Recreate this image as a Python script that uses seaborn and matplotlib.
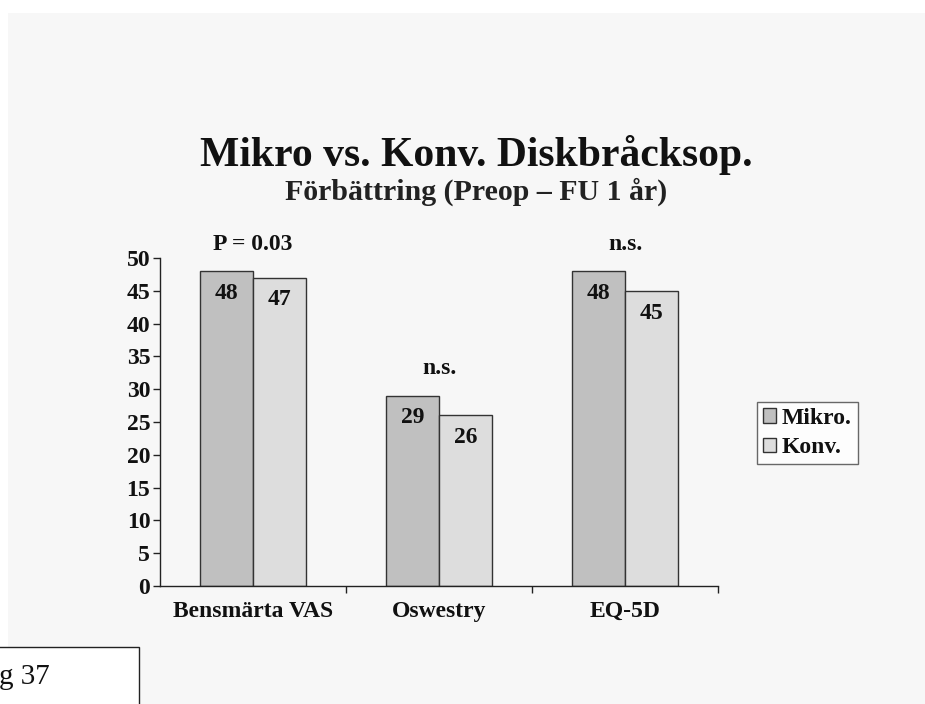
import matplotlib
matplotlib.use("Agg")
import matplotlib.pyplot as plt
from matplotlib.patches import Rectangle
import seaborn as sns
import pandas as pd

categories = ["Bensmärta VAS", "Oswestry", "EQ-5D"]
mikro = [48, 29, 48]
konv = [47, 26, 45]
groups = ["Mikro.", "Konv."]
significance = ["P = 0.03", "n.s.", "n.s."]
yticks = [0, 5, 10, 15, 20, 25, 30, 35, 40, 45, 50]

df = pd.DataFrame({
    "Kategori": categories * 2,
    "Grupp": [groups[0]] * len(categories) + [groups[1]] * len(categories),
    "Värde": mikro + konv,
})

sns.set_theme(style="white")
plt.rcParams["font.family"] = ["Liberation Serif", "DejaVu Serif"]
plt.rcParams["font.weight"] = "bold"

W, H = 925, 704
FS = 17
fig = plt.figure(figsize=(W / 100, H / 100), dpi=100)
fig.patch.set_facecolor("white")
panel = "#f7f7f7"
fig.patches.append(Rectangle((8 / W, 0), 1, 1 - 13 / H, transform=fig.transFigure,
                             facecolor=panel, edgecolor="none", zorder=-10))

ax = fig.add_axes([160 / W, (H - 586) / H, 558 / W, 328 / H])
ax.set_facecolor(panel)

palette = {"Mikro.": "#c0c0c0", "Konv.": "#dddddd"}
sns.barplot(data=df, x="Kategori", y="Värde", hue="Grupp", palette=palette,
            width=0.575, edgecolor="#333333", linewidth=1.0, ax=ax,
            saturation=1, legend=True)

ax.set_xlim(-0.5, 2.5)
ax.set_ylim(0, 50)
ax.set_yticks(yticks)
ax.set_xlabel("")
ax.set_ylabel("")
for s in ["top", "right"]:
    ax.spines[s].set_visible(False)
for s in ["left", "bottom"]:
    ax.spines[s].set_color("#222222")
    ax.spines[s].set_linewidth(1.0)

ax.tick_params(axis="y", which="major", direction="out", length=5, width=1,
               color="#222222", left=True, labelsize=FS, pad=2)
ax.tick_params(axis="x", which="major", length=0, labelsize=FS, pad=11)
ax.set_xticks([0.5, 1.5, 2.5], minor=True)
ax.tick_params(axis="x", which="minor", direction="out", length=5, width=1,
               color="#222222", bottom=True)
for lbl in ax.get_yticklabels() + ax.get_xticklabels():
    lbl.set_fontweight("bold")
    lbl.set_color("#111111")

# value labels inside the bars, just below each top
for cont in ax.containers:
    for rect, v in zip(cont.patches, cont.datavalues):
        ax.annotate(f"{v:g}", (rect.get_x() + rect.get_width() / 2, v),
                    xytext=(0, -16), textcoords="offset points",
                    ha="center", va="center", fontsize=FS, fontweight="bold",
                    color="#111111")

# significance notes above each pair
for i, txt in enumerate(significance):
    top = max(mikro[i], konv[i])
    ax.annotate(txt, (i, top), xytext=(0, 19.5), textcoords="offset points",
                ha="center", va="center", fontsize=FS, fontweight="bold",
                color="#111111", annotation_clip=False)

leg = ax.legend(loc="center left", bbox_to_anchor=(1.07, 0.5 - 11 / 328),
                frameon=True, fancybox=False, handlelength=0.55,
                handleheight=0.55, handletextpad=0.25, borderpad=0.25,
                labelspacing=0.35, borderaxespad=0,
                prop={"weight": "bold", "size": FS})
leg.get_frame().set_edgecolor("#444444")
leg.get_frame().set_facecolor("white")
leg.get_frame().set_linewidth(1.0)
for t in leg.get_texts():
    t.set_color("#111111")

fig.text(476 / W, 1 - 155 / H, "Mikro vs. Konv. Diskbråcksop.", ha="center",
         va="center", fontsize=30, fontweight="bold", color="#111111")
fig.text(476 / W, 1 - 192 / H, "Förbättring (Preop – FU 1 år)", ha="center",
         va="center", fontsize=21.5, fontweight="bold", color="#222222")

# page-number box at the lower left
fig.patches.append(Rectangle((-0.01, -0.01), 139 / W + 0.01, (H - 647) / H + 0.01,
                             transform=fig.transFigure, facecolor="white",
                             edgecolor="#222222", linewidth=1.0, zorder=5))
fig.text(-1 / W, 1 - 677 / H, "g 37", ha="left", va="center", fontsize=21,
         fontweight="normal", color="#111111", zorder=6)

fig.savefig("out.png", dpi=100, facecolor=fig.get_facecolor())
